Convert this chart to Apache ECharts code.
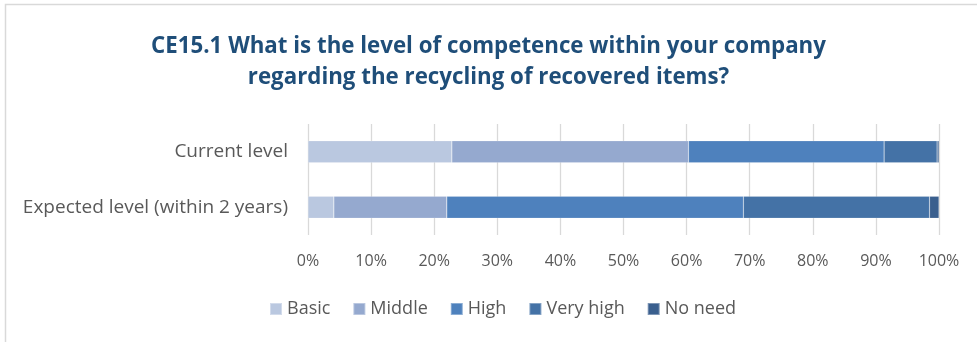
<!DOCTYPE html>
<html>
<head>
<meta charset="utf-8">
<script src="https://cdn.jsdelivr.net/npm/echarts@6/dist/echarts.min.js"></script>
<style>html,body{margin:0;padding:0;background:#fff}#c{width:977px;height:342px}</style>
</head>
<body>
<div id="c"></div>
<script>
const categories = ['Current level', 'Expected level (within 2 years)'];
const seriesNames = ['Basic', 'Middle', 'High', 'Very high', 'No need'];
const basic = [22.8, 4.1];
const middle = [37.5, 17.9];
const high = [31.0, 47.0];
const veryHigh = [8.4, 29.5];
const noNeed = [0.3, 1.5];
const xTicks = [0, 10, 20, 30, 40, 50, 60, 70, 80, 90, 100];
const colors = ['#BAC8E0', '#95A9CF', '#4E81BD', '#4472A6', '#3A5F8E'];

const values = [basic, middle, high, veryHigh, noNeed];
const chart = echarts.init(document.getElementById('c'));
chart.setOption({
  animation: false,
  title: {
    text: 'CE15.1 What is the level of competence within your company\nregarding the recycling of recovered items?',
    left: 'center', top: 26,
    textStyle: { fontFamily: 'Open Sans', fontWeight: 'bold', fontSize: 22.3, color: '#1F4E79', lineHeight: 31 }
  },
  graphic: [{ type: 'rect', shape: { x: 5.5, y: 4.5, width: 980, height: 350 }, style: { fill: 'none', stroke: '#D9D9D9', lineWidth: 1.5 } }],
  legend: {
    top: 295, left: 264, itemWidth: 12, itemHeight: 12, itemGap: 22,
    icon: 'rect',
    textStyle: { fontFamily: 'Open Sans', fontSize: 18, color: '#595959' },
    data: seriesNames
  },
  grid: { left: 308, right: 38, top: 124, height: 111 },
  xAxis: {
    type: 'value', min: 0, max: 100, interval: 10,
    axisLine: { show: false }, axisTick: { show: false },
    splitLine: { lineStyle: { color: '#D9D9D9', width: 1.3 } },
    axisLabel: { fontFamily: 'Open Sans', fontSize: 16, color: '#595959', margin: 18, formatter: v => xTicks.includes(v) ? v + '%' : '' }
  },
  yAxis: {
    type: 'category', data: categories, inverse: true,
    axisLine: { show: false }, axisTick: { show: false },
    axisLabel: { fontFamily: 'Open Sans', fontSize: 19, color: '#595959', margin: 20 }
  },
  series: seriesNames.map((n, i) => ({
    name: n, type: 'bar', stack: 'total', barWidth: 22,
    itemStyle: { color: colors[i], borderColor: 'rgba(255,255,255,0.35)', borderWidth: 0.5 },
    data: values[i]
  }))
});
</script>
</body>
</html>
